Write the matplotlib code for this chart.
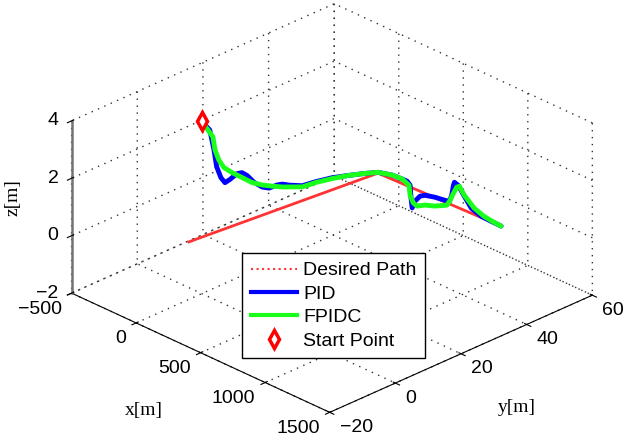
import matplotlib
matplotlib.use("Agg")
import matplotlib.pyplot as plt
from matplotlib.lines import Line2D
from matplotlib.transforms import IdentityTransform
from mpl_toolkits.mplot3d import proj3d

plt.rcParams['font.family'] = ['Liberation Sans', 'DejaVu Sans']
plt.rcParams['grid.linestyle'] = (0, (1, 4))
plt.rcParams['grid.color'] = '0.2'
plt.rcParams['grid.linewidth'] = 1.0

# desired path waypoints
path_x = [-50, 500, 1200]
path_y = [-2, 34, 44]
path_z = [-0.2, 1.5, 0.6]

# start point
start_x, start_y, start_z = 0, 0, 4

# PID trajectory
pid_x = [0, 11, 23, 31, 44, 55, 69, 90, 105, 119, 140, 163, 184, 207, 222, 242, 280,
         318, 367, 416, 464, 500, 582, 638, 666, 683, 688, 694, 711, 739, 767, 823,
         880, 907, 919, 930, 935, 958, 986, 1031, 1087, 1143, 1200]
pid_y = [0, 2, 2.8, 3.3, 4.1, 4.9, 5.8, 7.2, 8.1, 9.1, 10.4, 12, 13.3, 14.8, 15.8, 17.1, 19.6,
         22.1, 25.3, 28.5, 31.6, 34, 35.2, 36, 36.4, 36.6, 36.7, 36.8, 37, 37.4, 37.8, 38.6,
         39.4, 39.8, 40, 40.1, 40.2, 40.5, 41, 41.6, 42.4, 43.2, 44]
pid_z = [4, 3.62, 2.92, 2.32, 1.92, 1.73, 1.82, 2.0, 2.02, 1.9, 1.64, 1.44, 1.38, 1.46, 1.47, 1.41, 1.34,
         1.43, 1.51, 1.53, 1.54, 1.53, 1.54, 1.48, 1.44, 1.33, 0.88, 0.55, 0.81, 1.02, 1.09, 1.10,
         1.07, 1.07, 1.30, 1.66, 1.77, 1.69, 1.39, 0.99, 0.79, 0.69, 0.6]

# FPIDC trajectory
fpidc_x = [0, 20, 26, 37, 52, 75, 105, 134, 163, 192, 222, 280, 318, 367, 416, 464, 500,
           582, 638, 677, 683, 700, 722, 767, 823, 891, 907, 930, 947, 963, 992, 1048,
           1103, 1160, 1200]
fpidc_y = [0, 2.6, 3.0, 3.7, 4.7, 6.2, 8.1, 10, 12, 13.8, 15.8, 19.6, 22.1, 25.3, 28.5, 31.6, 34,
           35.2, 36, 36.5, 36.6, 36.9, 37.2, 37.8, 38.6, 39.6, 39.8, 40.1, 40.4, 40.6, 41, 41.8,
           42.6, 43.4, 44]
fpidc_z = [4, 3.37, 2.91, 2.55, 2.26, 2.06, 1.85, 1.64, 1.51, 1.44, 1.37, 1.30, 1.40, 1.48, 1.53, 1.54, 1.53,
           1.54, 1.48, 1.32, 0.98, 0.73, 0.65, 0.75, 0.79, 0.91, 1.07, 1.38, 1.61, 1.67, 1.39, 1.02,
           0.81, 0.68, 0.6]

x_ticks = [-500, 0, 500, 1000, 1500]
y_ticks = [-20, 0, 20, 40, 60]
z_ticks = [-2, 0, 2, 4]

red = (1.0, 0.2, 0.2)
green = (0.1, 1.0, 0.1)

fig = plt.figure(figsize=(6.24, 4.42), dpi=100)
ax = fig.add_axes([14 / 624, 7 / 442, 1, 1], projection='3d')
ax.set_proj_type('ortho')
ax.view_init(elev=27, azim=-44.5)
ax.set_box_aspect((1, 1, 0.525), zoom=1.22)

ax.plot(path_x, path_y, path_z, color=red, lw=2)
ax.plot(pid_x, pid_y, pid_z, color='blue', lw=3.5, solid_capstyle='round', solid_joinstyle='round')
ax.plot(fpidc_x, fpidc_y, fpidc_z, color=green, lw=3.5, solid_capstyle='round', solid_joinstyle='round')
ax.plot([start_x], [start_y], [start_z], marker='d', ms=9, mew=2.5, mec='red', mfc='white', ls='none')

ax.set_xlim(x_ticks[0], x_ticks[-1])
ax.set_ylim(y_ticks[0], y_ticks[-1])
ax.set_zlim(z_ticks[0], z_ticks[-1])
ax.set_xticks(x_ticks)
ax.set_yticks(y_ticks)
ax.set_zticks(z_ticks)
ax.tick_params(labelcolor=(0, 0, 0, 0))
ax.zaxis.set_ticks_position('lower')

for a in (ax.xaxis, ax.yaxis, ax.zaxis):
    a.set_pane_color((1, 1, 1, 0))
    a.pane.set_edgecolor((1, 1, 1, 0))
ax.xaxis.line.set_color('black')
ax.yaxis.line.set_color('black')
ax.zaxis.line.set_color('0.45')
ax.zaxis.line.set_linewidth(1.8)

# axis labels placed as in the original figure
fig.text(144 / 624, 1 - 410 / 442, 'x[m]', family='Liberation Serif', fontsize=14, ha='center', va='center')
fig.text(517 / 624, 1 - 408 / 442, 'y[m]', family='Liberation Serif', fontsize=14, ha='center', va='center')
fig.text(13 / 624, 1 - 198 / 442, 'z[m]', family='Liberation Serif', fontsize=14, ha='center', va='center',
         rotation=90)

handles = [
    Line2D([], [], color=red, ls=':', lw=1.5),
    Line2D([], [], color='blue', lw=3),
    Line2D([], [], color=green, lw=3),
    Line2D([], [], color='red', marker='d', ms=9, mew=2.5, mfc='white', ls='none'),
]
leg = fig.legend(handles, ['Desired Path', 'PID', 'FPIDC', 'Start Point'],
                 loc='upper left', bbox_to_anchor=(242 / 624, 1 - 253 / 442), borderaxespad=0,
                 fontsize=14, handlelength=2.4, handletextpad=0.3, labelspacing=0.3,
                 borderpad=0.45, fancybox=False, framealpha=1, edgecolor='black')
leg.get_frame().set_linewidth(1.0)

# MATLAB style tick labels: placed next to the projected tick positions
fig.canvas.draw()


def tick_text(points, texts, dx, dy, ha):
    for (px, py, pz), s in zip(points, texts):
        u, v, _ = proj3d.proj_transform(px, py, pz, ax.M)
        X, Y = ax.transData.transform((u, v))
        fig.text(X + dx, Y + dy, s.replace('-', '\u2212'), transform=IdentityTransform(),
                 ha=ha, va='center', fontsize=14)


tick_text([(v, y_ticks[0], z_ticks[0]) for v in x_ticks], [str(v) for v in x_ticks], -10, -16, 'right')
tick_text([(x_ticks[-1], v, z_ticks[0]) for v in y_ticks], [str(v) for v in y_ticks], 10, -15, 'left')
tick_text([(x_ticks[0], y_ticks[0], v) for v in z_ticks], [str(v) for v in z_ticks], -13, 0, 'right')

fig.savefig('out.png', dpi=100)
